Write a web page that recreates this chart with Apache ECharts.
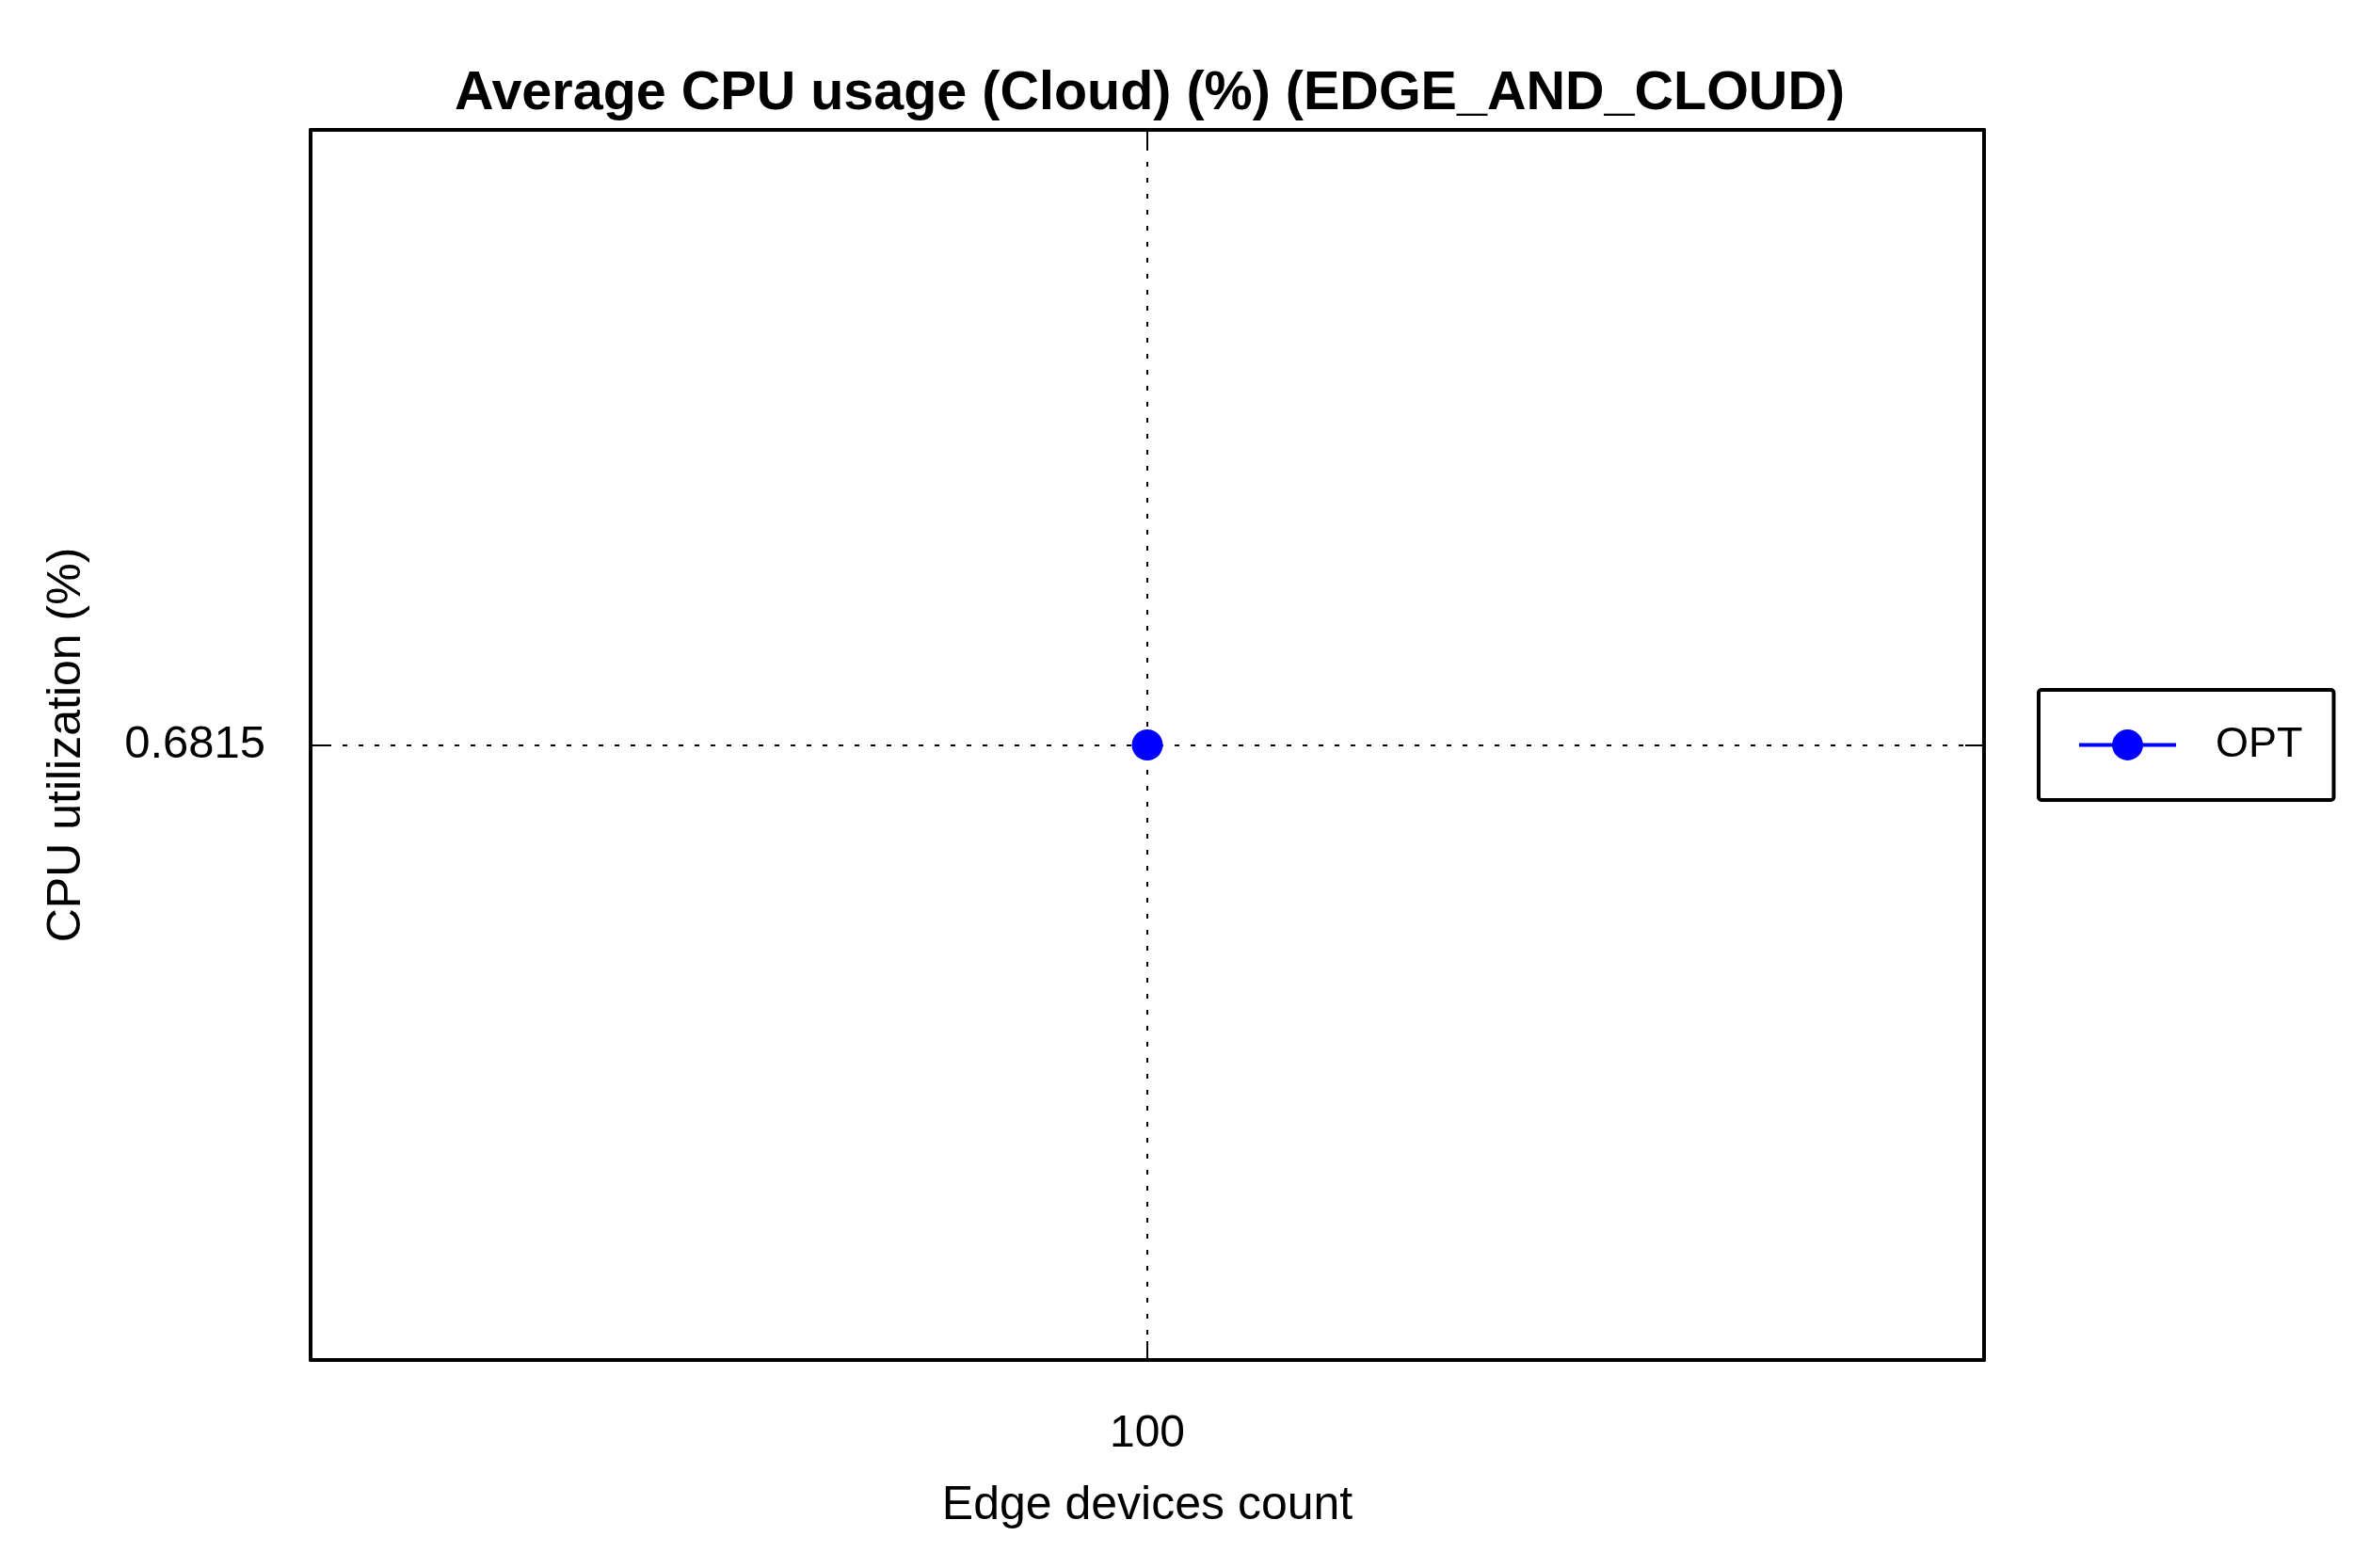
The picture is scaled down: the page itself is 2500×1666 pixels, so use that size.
<!DOCTYPE html>
<html>
<head>
<meta charset="utf-8">
<title>Average CPU usage (Cloud)</title>
<script src="https://cdn.jsdelivr.net/npm/echarts@6/dist/echarts.min.js"></script>
<style>
  html, body { margin: 0; padding: 0; background: #fff; }
  #chart { width: 2500px; height: 1666px; }
</style>
</head>
<body>
<div id="chart"></div>
<script>
// datos
const deviceCounts = [100];
const cpuOpt = [0.6815];
const seriesNames = ['OPT'];
// ejes simetricos alrededor del unico punto
const xMin = 0, xMax = 200, xStep = 100;
const yMin = 0, yMax = 1.363, yStep = 0.6815;

const fuente = 'Liberation Sans, Arial, Helvetica, sans-serif';
const punteado = { color: '#000', width: 2, type: [5, 12] };

function marca() {
    return { show: true, inside: true, length: 20, lineStyle: { color: '#000', width: 2 } };
}
function borde() {
    return { show: true, onZero: false, lineStyle: { color: '#000', width: 4 } };
}

const grafico = echarts.init(document.getElementById('chart'));
grafico.setOption({
    backgroundColor: '#fff',
    animation: false,
    title: {
        text: 'Average CPU usage (Cloud) (%) (EDGE_AND_CLOUD)',
        left: 478,
        top: 66,
        textStyle: { fontFamily: fuente, fontSize: 57.5, fontWeight: 'bold', color: '#000' }
    },
    grid: {
        left: 330, top: 138, width: 1778, height: 1307,
        show: false, containLabel: false
    },
    legend: {
        data: seriesNames,
        left: 2166, top: 733,
        orient: 'vertical',
        itemWidth: 103, itemHeight: 41,
        padding: [36, 33, 36, 41],
        borderColor: '#000', borderWidth: 4, borderRadius: 3,
        lineStyle: { width: 4 },
        textStyle: { fontFamily: fuente, fontSize: 45, color: '#000', padding: [0, 0, 0, 37] }
    },
    xAxis: [{
        type: 'value', min: xMin, max: xMax, interval: xStep, position: 'bottom',
        name: 'Edge devices count', nameLocation: 'middle', nameGap: 130,
        nameTextStyle: { fontFamily: fuente, fontSize: 50, color: '#000' },
        axisLine: borde(),
        axisTick: marca(),
        axisLabel: {
            fontFamily: fuente, fontSize: 48, color: '#000', margin: 55,
            showMinLabel: false, showMaxLabel: false
        },
        splitLine: { show: true, lineStyle: punteado }
    }, {
        type: 'value', min: xMin, max: xMax, interval: xStep, position: 'top',
        axisLine: borde(), axisTick: marca(),
        axisLabel: { show: false }, splitLine: { show: false }
    }],
    yAxis: [{
        type: 'value', min: yMin, max: yMax, interval: yStep, position: 'left',
        name: 'CPU utilization (%)', nameLocation: 'middle', nameGap: 234,
        nameTextStyle: { fontFamily: fuente, fontSize: 50, color: '#000' },
        axisLine: borde(),
        axisTick: marca(),
        axisLabel: {
            fontFamily: fuente, fontSize: 49, color: '#000', margin: 48,
            showMinLabel: false, showMaxLabel: false,
            formatter: v => v.toFixed(4)
        },
        splitLine: { show: true, lineStyle: punteado }
    }, {
        type: 'value', min: yMin, max: yMax, interval: yStep, position: 'right',
        axisLine: borde(), axisTick: marca(),
        axisLabel: { show: false }, splitLine: { show: false }
    }],
    series: [{
        name: seriesNames[0],
        type: 'line',
        data: deviceCounts.map((d, i) => [d, cpuOpt[i]]),
        symbol: 'circle',
        symbolSize: 33,
        itemStyle: { color: '#0000ff' },
        lineStyle: { color: '#0000ff', width: 4 }
    }]
});

window.addEventListener('resize', function() {
    grafico.resize();
});
</script>
</body>
</html>
